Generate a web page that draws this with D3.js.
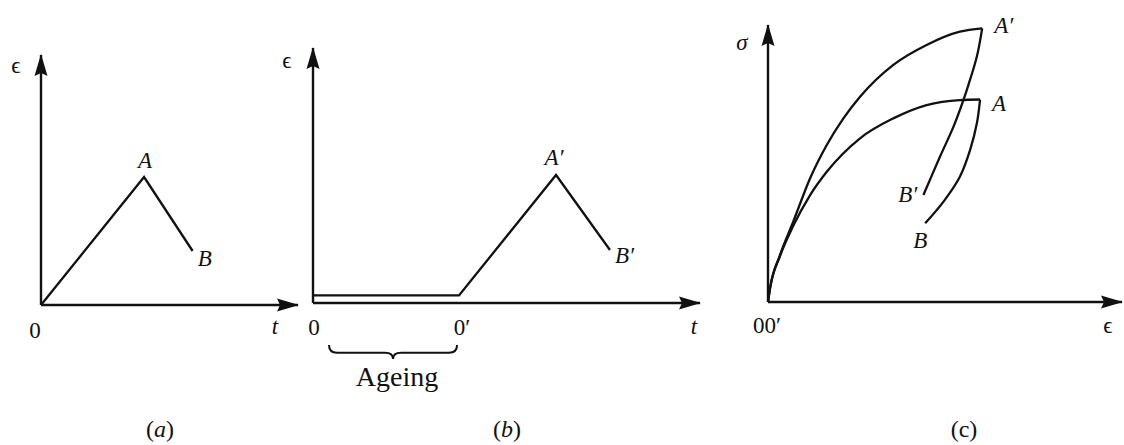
<!DOCTYPE html>
<html>
<head>
<meta charset="utf-8">
<script src="https://cdn.jsdelivr.net/npm/d3@7"></script>
<style>
  html, body { margin: 0; padding: 0; background: #fff; }
  svg { display: block; }
  text { font-family: "Liberation Serif", "Times New Roman", "DejaVu Serif", serif; fill: #111; }
</style>
</head>
<body>
<svg id="fig" width="1124" height="445"></svg>
<script>
// ---- (a) strain history: load to A, unload to B ----
const aTime   = [0, 4.01, 5.9];
const aStrain = [0, 5.12, 2.16];
const aLabels = ["A", "B"];

// ---- (b) ageing at small constant strain, then load to A', unload to B' ----
const bTime   = [0, 5.66, 9.42, 11.51];
const bStrain = [0.3, 0.3, 5.02, 2.08];
const bLabels = ["A′", "B′"];
const ageingLabel = "Ageing";

// ---- (c) stress–strain responses ----
// unaged loading O → A
const cLoadStrain   = [0, 0.06, 0.34, 0.71, 1.19, 1.66, 2.60, 3.54, 4.48, 5.42, 5.99];
const cLoadStress   = [0, 0.51, 1.66, 2.74, 3.86, 4.70, 5.91, 6.63, 7.11, 7.29, 7.31];
// unaged unloading A → B
const cUnloadStrain = [5.99, 5.90, 5.71, 5.42, 4.98, 4.44];
const cUnloadStress = [7.31, 6.45, 5.49, 4.52, 3.66, 2.84];
// aged loading O' → A'
const cAgedLoadStrain   = [0, 0.06, 0.34, 0.71, 1.19, 1.66, 2.13, 2.60, 3.54, 4.48, 5.42, 6.05];
const cAgedLoadStress   = [0, 0.51, 1.70, 2.89, 4.47, 5.67, 6.63, 7.41, 8.56, 9.28, 9.76, 9.88];
// aged unloading A' → B'
const cAgedUnloadStrain = [6.05, 5.90, 5.66, 5.52, 5.24, 4.86, 4.39];
const cAgedUnloadStress = [9.88, 8.86, 7.83, 7.29, 6.33, 5.25, 3.86];
const cLabels = ["A", "B", "A′", "B′"];

// axis and panel captions
const axisNames = { a: ["t", "ϵ"], b: ["t", "ϵ"], c: ["ϵ", "σ"] };
const originNames = { a: ["0"], b: ["0", "0′"], c: ["00′"] };
const captions = ["a", "b", "c"];

const svg = d3.select("#fig");
const INK = "#111";

// arrowhead used on every axis
svg.append("defs").append("marker")
  .attr("id", "arrow")
  .attr("markerUnits", "userSpaceOnUse")
  .attr("viewBox", "0 -7 22 14")
  .attr("refX", 21).attr("refY", 0)
  .attr("markerWidth", 22).attr("markerHeight", 14)
  .attr("orient", "auto")
  .append("path")
  .attr("d", "M0,-6.5 L22,0 L0,6.5 L3,0 Z")
  .attr("fill", INK);

function axes(g, x, y) {
  const [x0, x1] = x.domain(), [y0, y1] = y.domain();
  g.append("line")
    .attr("x1", x(x0)).attr("y1", y(y0)).attr("x2", x(x1)).attr("y2", y(y0))
    .attr("stroke", INK).attr("stroke-width", 2.4).attr("marker-end", "url(#arrow)");
  g.append("line")
    .attr("x1", x(x0)).attr("y1", y(y0)).attr("x2", x(x0)).attr("y2", y(y1))
    .attr("stroke", INK).attr("stroke-width", 2.4).attr("marker-end", "url(#arrow)");
}

function trace(g, xs, ys, x, y, curve) {
  const pts = xs.map((v, i) => [v, ys[i]]);
  g.append("path")
    .attr("d", d3.line().x(d => x(d[0])).y(d => y(d[1])).curve(curve || d3.curveLinear)(pts))
    .attr("fill", "none").attr("stroke", INK).attr("stroke-width", 2.3)
    .attr("stroke-linejoin", "miter");
}

function label(g, txt, px, py, opts) {
  const o = Object.assign({ size: 23, italic: true, anchor: "middle" }, opts || {});
  g.append("text")
    .attr("x", px).attr("y", py)
    .attr("text-anchor", o.anchor)
    .attr("font-size", o.size)
    .attr("font-style", o.italic ? "italic" : "normal")
    .text(txt);
}

function caption(g, letter, cx, italic) {
  const t = g.append("text").attr("x", cx).attr("y", 437)
    .attr("text-anchor", "middle").attr("font-size", 24);
  t.append("tspan").text("(");
  t.append("tspan").attr("font-style", italic ? "italic" : "normal").text(letter);
  t.append("tspan").text(")");
}

// ---------------- panel (a) ----------------
{
  const g = svg.append("g");
  const x = d3.scaleLinear().domain([0, 10]).range([41, 298]);
  const y = d3.scaleLinear().domain([0, 10]).range([305, 55]);
  axes(g, x, y);
  trace(g, aTime, aStrain, x, y);
  label(g, aLabels[0], x(aTime[1]) + 1, y(aStrain[1]) - 9);
  label(g, aLabels[1], x(aTime[2]) + 5, y(aStrain[2]) + 15, { anchor: "start" });
  label(g, axisNames.a[1], 16, 73, { italic: false });
  label(g, axisNames.a[0], 275, 334);
  label(g, originNames.a[0], x(0) - 6, 338, { italic: false });
  caption(g, captions[0], 160, true);
}

// ---------------- panel (b) ----------------
{
  const g = svg.append("g");
  const x = d3.scaleLinear().domain([0, 15]).range([313, 700]);
  const y = d3.scaleLinear().domain([0, 10]).range([303, 48]);
  axes(g, x, y);
  trace(g, bTime, bStrain, x, y);
  label(g, bLabels[0], x(bTime[2]) - 2, y(bStrain[2]) - 10);
  label(g, bLabels[1], x(bTime[3]) + 5, y(bStrain[3]) + 13, { anchor: "start" });
  label(g, axisNames.b[1], 287, 68, { italic: false });
  label(g, axisNames.b[0], 694, 334);
  label(g, originNames.b[0], x(0) + 1, 335, { italic: false });
  label(g, originNames.b[1], x(bTime[1]) + 3, 335, { italic: false });

  // brace spanning the ageing interval
  const bx1 = x(0) + 16, bx2 = x(bTime[1]) - 2, by = 345, bh = 14, q = 8;
  const mid = (bx1 + bx2) / 2, ym = by + bh * 0.55;
  const brace = `M${bx1},${by} Q${bx1},${ym} ${bx1 + q},${ym} L${mid - q},${ym} ` +
    `Q${mid},${ym} ${mid},${by + bh} Q${mid},${ym} ${mid + q},${ym} ` +
    `L${bx2 - q},${ym} Q${bx2},${ym} ${bx2},${by}`;
  g.append("path").attr("d", brace).attr("fill", "none")
    .attr("stroke", INK).attr("stroke-width", 2);
  label(g, ageingLabel, mid + 4, 386, { italic: false, size: 28 });
  caption(g, captions[1], 507, true);
}

// ---------------- panel (c) ----------------
{
  const g = svg.append("g");
  const x = d3.scaleLinear().domain([0, 10]).range([768, 1122]);
  const y = d3.scaleLinear().domain([0, 10]).range([302, 25]);
  axes(g, x, y);
  trace(g, cLoadStrain, cLoadStress, x, y, d3.curveMonotoneX);
  trace(g, cUnloadStrain, cUnloadStress, x, y, d3.curveCatmullRom);
  trace(g, cAgedLoadStrain, cAgedLoadStress, x, y, d3.curveMonotoneX);
  trace(g, cAgedUnloadStrain, cAgedUnloadStress, x, y, d3.curveCatmullRom);

  const nA = cLoadStrain.length - 1, nB = cUnloadStrain.length - 1;
  const nA2 = cAgedLoadStrain.length - 1, nB2 = cAgedUnloadStrain.length - 1;
  label(g, cLabels[0], x(cLoadStrain[nA]) + 12, y(cLoadStress[nA]) + 11, { anchor: "start" });
  label(g, cLabels[1], x(cUnloadStrain[nB]) - 5, y(cUnloadStress[nB]) + 25);
  label(g, cLabels[2], x(cAgedLoadStrain[nA2]) + 12, y(cAgedLoadStress[nA2]) + 5, { anchor: "start" });
  label(g, cLabels[3], x(cAgedUnloadStrain[nB2]) - 6, y(cAgedUnloadStress[nB2]) + 7, { anchor: "end" });

  label(g, axisNames.c[1], 742, 50);
  label(g, axisNames.c[0], 1108, 333, { italic: false });
  label(g, originNames.c[0], 753, 333, { italic: false, anchor: "start" });
  caption(g, captions[2], 964, false);
}
</script>
</body>
</html>
